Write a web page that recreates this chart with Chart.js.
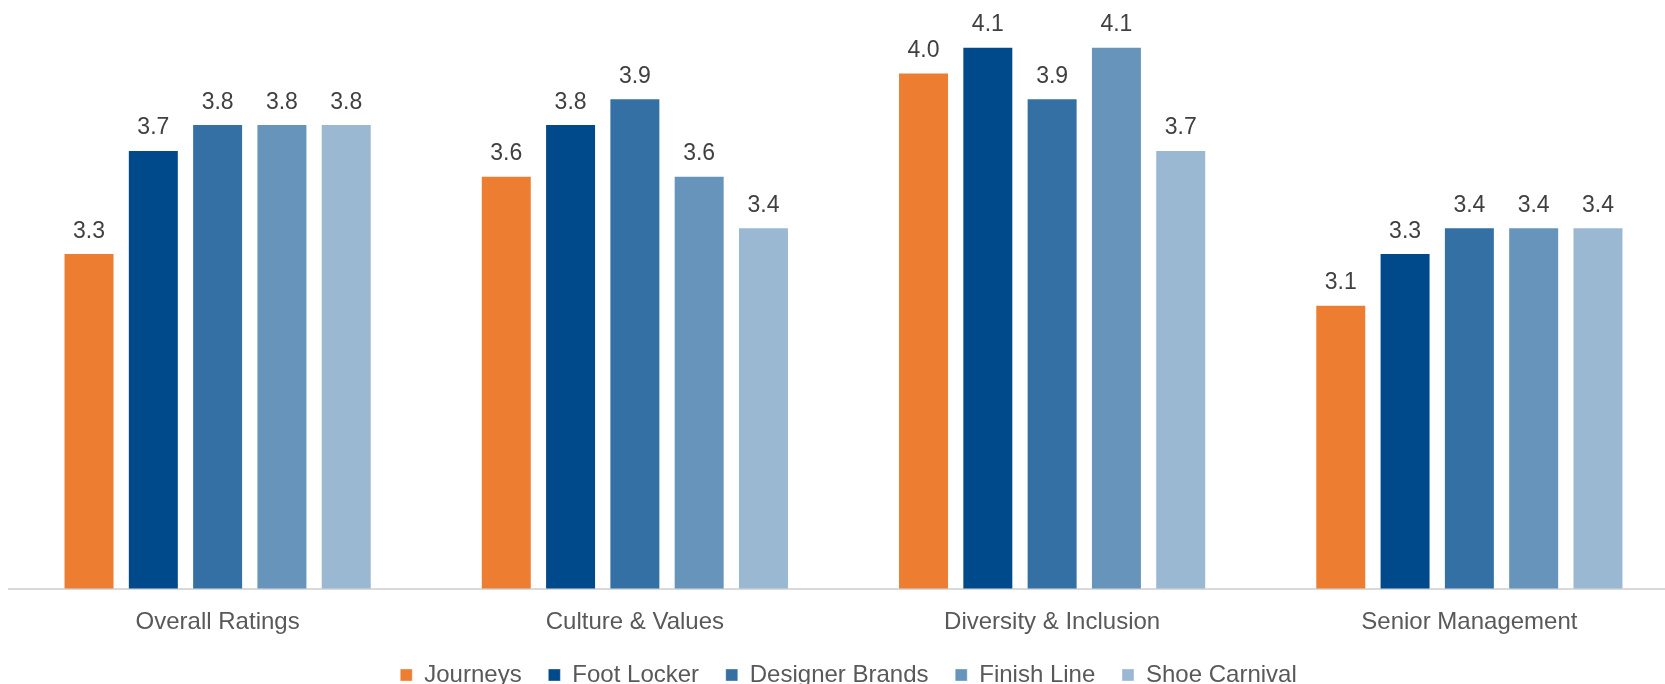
<!DOCTYPE html>
<html>
<head>
<meta charset="utf-8">
<title>Employee ratings by retailer</title>
<script src="https://cdn.jsdelivr.net/npm/chart.js@4/dist/chart.umd.min.js"></script>
<style>
  html, body { margin: 0; padding: 0; background: #ffffff; overflow: hidden; }
  #wrap { position: absolute; left: 0; top: 0; width: 1696px; height: 716px; }
</style>
</head>
<body>
<div id="wrap"><canvas id="c" width="1696" height="716"></canvas></div>
<script>
// Rating categories along the x axis
const categories = ['Overall Ratings', 'Culture & Values', 'Diversity & Inclusion', 'Senior Management'];

// Ratings per retailer (one value per category)
const journeys        = [3.3, 3.6, 4.0, 3.1];
const footLocker      = [3.7, 3.8, 4.1, 3.3];
const designerBrands  = [3.8, 3.9, 3.9, 3.4];
const finishLine      = [3.8, 3.6, 4.1, 3.4];
const shoeCarnival    = [3.8, 3.4, 3.7, 3.4];

const seriesNames = ['Journeys', 'Foot Locker', 'Designer Brands', 'Finish Line', 'Shoe Carnival'];
const seriesValues = [journeys, footLocker, designerBrands, finishLine, shoeCarnival];
const seriesColors = ['#ED7D31', '#004A8B', '#3470A4', '#6694BB', '#9BB8D3'];

const FONT = '"Liberation Sans", Arial, Helvetica, sans-serif';

// Value labels above each bar
const valueLabels = {
  id: 'valueLabels',
  afterDatasetsDraw(chart) {
    const ctx = chart.ctx;
    ctx.save();
    ctx.font = '23px ' + FONT;
    ctx.fillStyle = '#404040';
    ctx.textAlign = 'center';
    ctx.textBaseline = 'alphabetic';
    chart.data.datasets.forEach((ds, i) => {
      const meta = chart.getDatasetMeta(i);
      meta.data.forEach((bar, j) => {
        ctx.fillText(ds.data[j].toFixed(1), bar.x, bar.y - 15.5);
      });
    });
    ctx.restore();
  }
};

// Nudge the legend row a little closer to the axis labels
const legendOffset = {
  id: 'legendOffset',
  afterLayout(chart) {
    const lg = chart.legend;
    if (!lg) return;
    const dy = -19, dx = 5;
    lg.top += dy; lg.bottom += dy;
    lg.left += dx; lg.right += dx;
  }
};

new Chart(document.getElementById('c'), {
  type: 'bar',
  data: {
    labels: categories,
    datasets: seriesNames.map((name, i) => ({
      label: name,
      data: seriesValues[i],
      backgroundColor: seriesColors[i],
      borderColor: 'rgba(255,255,255,0.35)',
      borderWidth: 1,
      categoryPercentage: 0.7705,
      barPercentage: 0.793
    }))
  },
  options: {
    responsive: false,
    animation: false,
    devicePixelRatio: 1,
    layout: { padding: { left: 9, right: 18, top: 0, bottom: 0 } },
    scales: {
      x: {
        grid: { display: false, drawTicks: false },
        border: { display: true, color: '#D9D9D9', width: 2 },
        ticks: { color: '#595959', font: { family: FONT, size: 24 }, padding: 19 }
      },
      y: {
        display: false,
        min: 2,
        max: 4.281
      }
    },
    plugins: {
      legend: {
        position: 'bottom',
        labels: {
          color: '#595959',
          font: { family: FONT, size: 24 },
          boxWidth: 12,
          boxHeight: 12,
          padding: 26.7
        }
      },
      tooltip: { enabled: false }
    }
  },
  plugins: [valueLabels, legendOffset]
});
</script>
</body>
</html>
